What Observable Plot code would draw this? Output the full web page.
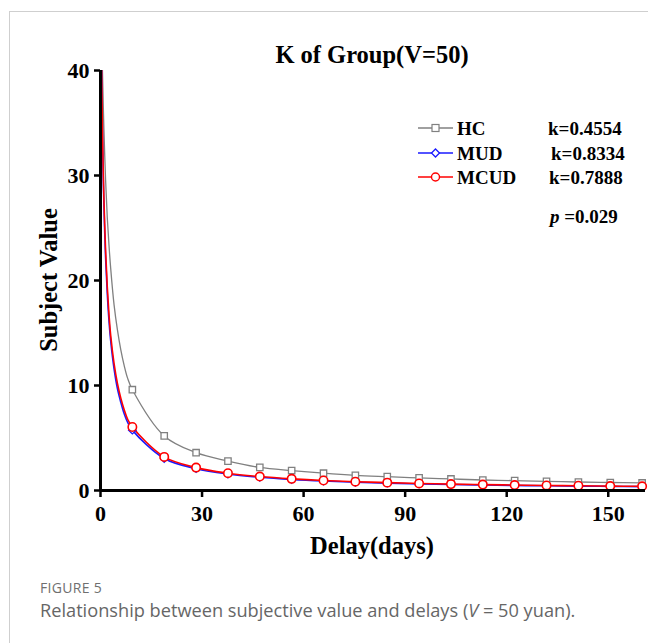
<!DOCTYPE html>
<html>
<head>
<meta charset="utf-8">
<script src="https://cdn.jsdelivr.net/npm/d3@7"></script>
<script src="https://cdn.jsdelivr.net/npm/@observablehq/plot@0.6"></script>
<style>
  html, body { margin: 0; padding: 0; background: #fff; }
  #wrap { position: relative; width: 648px; height: 643px; overflow: hidden; }
  #frame { position: absolute; left: 9px; top: 11px; right: -2px; bottom: -2px; border-left: 1px solid #cfcfcf; border-top: 1px solid #cfcfcf; }
  #chart { position: absolute; left: 0; top: 0; }
  #chart svg g[aria-label$="tick label"] text, #chart svg g[aria-label$="tick label"] {
    font-family: "Liberation Serif", "Times New Roman", serif !important; font-weight: bold !important; font-size: 22px !important; fill: #000 !important;
  }
  .serif { font-family: "Liberation Serif", "Times New Roman", serif; font-weight: bold; color: #000; }
  #title { position: absolute; left: 0; width: 744px; text-align: center; top: 41px; font-size: 24.5px; }
  .leg { position: absolute; font-size: 19px; line-height: 19px; white-space: nowrap; }
  #cap1 { position: absolute; left: 40px; top: 578px; font-family: "Open Sans", sans-serif; font-size: 14px; color: #6f6f6f; letter-spacing: 0.3px; }
  #cap2 { position: absolute; left: 40px; top: 598px; font-family: "Open Sans", sans-serif; font-size: 18.2px; color: #666; }
</style>
</head>
<body>
<div id="wrap">
  <div id="frame"></div>
  <div id="chart"></div>
  <div id="title" class="serif">K of Group(V=50)</div>
  <div id="legend"></div>
  <div id="cap1">FIGURE 5</div>
  <div id="cap2">Relationship between subjective value and delays (<i>V</i> = 50 yuan).</div>
</div>
<script>
// Delay (days) at which the curves were sampled
const days = [0, 0.25, 0.5, 0.75, 1, 1.5, 2, 2.5, 3, 4, 5, 6, 7, 8,
  9.41, 18.82, 28.24, 37.65, 47.06, 56.47, 65.88, 75.29, 84.71, 94.12, 103.53, 112.94, 122.35, 131.76, 141.18, 150.59, 160];
// Subjective values
const hcValues = [50, 45, 41, 37.6, 34.5, 29.6, 26, 23.4, 21.2, 17.7, 15.3, 13.4, 11.9, 10.7,
  9.6, 5.2, 3.6, 2.8, 2.2, 1.9, 1.65, 1.45, 1.32, 1.2, 1.1, 1.0, 0.94, 0.87, 0.81, 0.76, 0.72];
const mudValues = [50, 41.5, 35.5, 30.8, 27.3, 22.2, 18.8, 16.2, 14.3, 11.6, 9.7, 8.4, 7.3, 6.5,
  5.75, 3.05, 2.08, 1.57, 1.26, 1.05, 0.9, 0.79, 0.7, 0.63, 0.57, 0.52, 0.48, 0.45, 0.42, 0.39, 0.37];
const mcudValues = [50, 41.8, 36, 31.4, 27.9, 22.9, 19.4, 16.8, 14.8, 12.1, 10.2, 8.8, 7.7, 6.8,
  6.05, 3.2, 2.18, 1.65, 1.33, 1.11, 0.95, 0.84, 0.75, 0.67, 0.61, 0.56, 0.52, 0.48, 0.45, 0.42, 0.40];
const groups = ["HC", "MUD", "MCUD"];
const kLabels = ["k=0.4554", "k=0.8334", "k=0.7888"];
const pLabel = "=0.029";
const xTicks = [0, 30, 60, 90, 120, 150];
const yTicks = [0, 10, 20, 30, 40];
const markerDays = [9.41, 18.82, 28.24, 37.65, 47.06, 56.47, 65.88, 75.29, 84.71, 94.12, 103.53, 112.94, 122.35, 131.76, 141.18, 150.59, 160];

const series = { HC: hcValues, MUD: mudValues, MCUD: mcudValues };
const colors = { HC: "#808080", MUD: "#1a1aff", MCUD: "#ff0000" };
const rows = groups.flatMap(g => days.map((d, i) => ({ group: g, day: d, value: series[g][i] })));
const marks = rows.filter(r => markerDays.includes(r.day));
const byG = g => rows.filter(r => r.group === g);
const mkG = g => marks.filter(r => r.group === g);

const font = { fontFamily: "Liberation Serif, Times New Roman, serif", fontWeight: "bold", fontSize: 22 };

const plot = Plot.plot({
  width: 648,
  height: 560,
  marginLeft: 100,
  marginRight: 3,
  marginTop: 70,
  marginBottom: 70,
  x: { domain: [0, 161] },
  y: { domain: [0, 40] },
  marks: [
    Plot.line(byG("HC"), { x: "day", y: "value", stroke: colors.HC, strokeWidth: 1.3, curve: "catmull-rom", clip: true }),
    Plot.line(byG("MUD"), { x: "day", y: "value", stroke: colors.MUD, strokeWidth: 1.6, curve: "catmull-rom", clip: true }),
    Plot.line(byG("MCUD"), { x: "day", y: "value", stroke: colors.MCUD, strokeWidth: 1.6, curve: "catmull-rom", clip: true }),
    Plot.dot(mkG("HC"), { x: "day", y: "value", symbol: "square", r: 3.6, stroke: colors.HC, fill: "white", strokeWidth: 1.3 }),
    Plot.dot(mkG("MUD"), { x: "day", y: "value", symbol: "diamond2", r: 3.4, stroke: colors.MUD, fill: "white", strokeWidth: 1.3 }),
    Plot.dot(mkG("MCUD"), { x: "day", y: "value", symbol: "circle", r: 4.2, stroke: colors.MCUD, fill: "white", strokeWidth: 1.6 }),
    Plot.axisY({ ticks: yTicks, tickSize: 6, tickPadding: 5, strokeWidth: 2.5, label: null, ...font, fill: "black" }),
    Plot.axisX({ ticks: xTicks, tickSize: 7, tickPadding: 8, strokeWidth: 2.5, label: null, ...font, fill: "black" }),
    Plot.ruleX([0], { stroke: "black", strokeWidth: 3 }),
    Plot.ruleY([0], { stroke: "black", strokeWidth: 3 })
  ]
});
document.getElementById("chart").appendChild(plot);

// Axis titles as SVG text added to the plot's SVG
const svg = d3.select(plot);
svg.append("text").attr("x", 372).attr("y", 554).attr("text-anchor", "middle")
  .attr("font-family", "Liberation Serif, Times New Roman, serif").attr("font-weight", "bold").attr("font-size", 24.5)
  .text("Delay(days)");
svg.append("text").attr("transform", "translate(57,280) rotate(-90)").attr("text-anchor", "middle")
  .attr("font-family", "Liberation Serif, Times New Roman, serif").attr("font-weight", "bold").attr("font-size", 24.5)
  .text("Subject Value");

// Legend (HTML)
const legend = document.getElementById("legend");
const symSvg = {
  HC: `<rect x="14" y="5.5" width="7" height="7" fill="white" stroke="${colors.HC}" stroke-width="1.2"/>`,
  MUD: `<path d="M17.5 5 L21.5 9 L17.5 13 L13.5 9 Z" fill="white" stroke="${colors.MUD}" stroke-width="1.3"/>`,
  MCUD: `<circle cx="17.5" cy="9" r="4" fill="white" stroke="${colors.MCUD}" stroke-width="1.4"/>`
};
const kX = [548, 551, 549];
groups.forEach((g, i) => {
  const top = 119 + i * 24.5;
  const d = document.createElement("div");
  d.className = "leg serif";
  d.style.left = "418px"; d.style.top = top + "px";
  d.innerHTML = `<svg width="36" height="18" style="vertical-align:top;margin-right:3px"><line x1="0" y1="9" x2="35" y2="9" stroke="${colors[g]}" stroke-width="${g === 'HC' ? 1.3 : 1.6}"/>${symSvg[g]}</svg>${g}`;
  legend.appendChild(d);
  const k = document.createElement("div");
  k.className = "leg serif";
  k.style.left = kX[i] + "px"; k.style.top = top + "px";
  k.textContent = kLabels[i];
  legend.appendChild(k);
});
const p = document.createElement("div");
p.className = "leg serif";
p.style.left = "550px"; p.style.top = "207px";
p.innerHTML = `<i>p</i> ${pLabel}`;
legend.appendChild(p);
</script>
</body>
</html>
